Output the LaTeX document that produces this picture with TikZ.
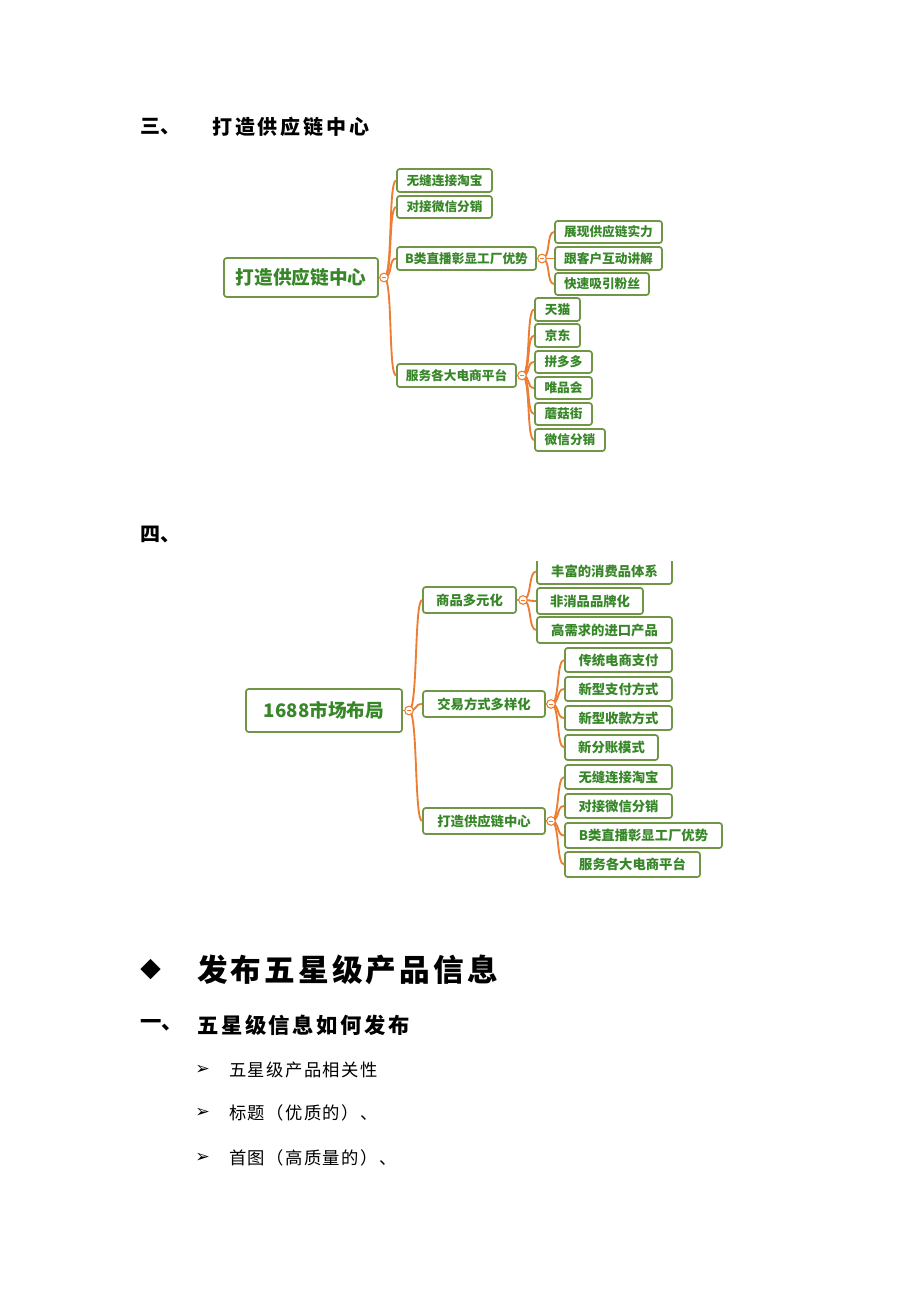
\documentclass[tikz,border=0pt]{standalone}
\usepackage{fontspec}
\setmainfont{Noto Sans CJK SC}
\newfontfamily\symf{DejaVu Sans}
\begin{document}
\begin{tikzpicture}[x=0.75pt,y=-0.75pt,
  bx/.style={draw=boxg,line width=1.3pt,rounded corners=2pt,fill=white,text=txtg,inner sep=0pt,font=\bfseries},
  br/.style={draw=brc,line width=1.4pt},
  cc/.style={circle,draw=brc,line width=0.8pt,fill=white,minimum size=6.5pt,inner sep=0pt},
  hd/.style={anchor=west,inner sep=0pt,font=\bfseries}]
\definecolor{boxg}{RGB}{112,150,70}
\definecolor{txtg}{RGB}{55,135,40}
\definecolor{brc}{RGB}{236,125,50}
\useasboundingbox (0,0) rectangle (920,1302);
\newcommand\bxx[6]{\node[bx,minimum width={(#4-#2)*0.75pt},minimum height={(#5-#3)*0.75pt},#6] (#1) at ({(#2+#4)/2},{(#3+#5)/2})}
\newcommand\conn[2]{\draw[br] (#1.center) .. controls +(9,0) and +(-8,0) .. (#2.west);}
\newcommand\knob[3]{\node[cc] (#1) at (#2,#3) {}; \draw[brc,line width=0.5pt] ([xshift=-1.5pt]#1.center) -- ([xshift=1.5pt]#1.center);}

% headings
\node[hd,font=\bfseries\fontsize{15}{15}\selectfont] (h3) at (140,127) {三、};
\node[hd,font=\bfseries\fontsize{15}{15}\selectfont] (h3t) at (212,127) {\addfontfeatures{LetterSpace=14}打造供应链中心};
\node[hd,font=\bfseries\fontsize{15}{15}\selectfont] (h4) at (140,535) {四、};

% ===== mindmap 1 =====
\bxx{r1}{224}{258}{378}{297}{font=\bfseries\fontsize{14}{14}\selectfont}{打造供应链中心};
\bxx{a1}{397}{169}{492}{192}{font=\bfseries\fontsize{9.5}{9.5}\selectfont}{无缝连接淘宝};
\bxx{a2}{397}{196}{492}{218}{font=\bfseries\fontsize{9.5}{9.5}\selectfont}{对接微信分销};
\bxx{a3}{397}{247}{536}{270}{font=\bfseries\fontsize{9.5}{9.5}\selectfont}{B类直播彰显工厂优势};
\bxx{a4}{397}{364}{516}{387}{font=\bfseries\fontsize{9.5}{9.5}\selectfont}{服务各大电商平台};
\bxx{b1}{555}{221}{662}{243}{font=\bfseries\fontsize{9.5}{9.5}\selectfont}{展现供应链实力};
\bxx{b2}{555}{247}{662}{270}{font=\bfseries\fontsize{9.5}{9.5}\selectfont}{跟客户互动讲解};
\bxx{b3}{555}{273}{649}{295}{font=\bfseries\fontsize{9.5}{9.5}\selectfont}{快速吸引粉丝};
\bxx{c1}{535}{298}{580}{321}{font=\bfseries\fontsize{9.5}{9.5}\selectfont}{天猫};
\bxx{c2}{535}{324}{580}{347}{font=\bfseries\fontsize{9.5}{9.5}\selectfont}{京东};
\bxx{c3}{535}{351}{592}{373}{font=\bfseries\fontsize{9.5}{9.5}\selectfont}{拼多多};
\bxx{c4}{535}{377}{592}{399}{font=\bfseries\fontsize{9.5}{9.5}\selectfont}{唯品会};
\bxx{c5}{535}{403}{592}{425}{font=\bfseries\fontsize{9.5}{9.5}\selectfont}{蘑菇街};
\bxx{c6}{535}{429}{605}{451}{font=\bfseries\fontsize{9.5}{9.5}\selectfont}{微信分销};
\coordinate (k1) at (384,277.5);
\coordinate (k2) at (542,258.5);
\coordinate (k3) at (522,375.5);
\draw[br] (r1.east) -- (k1);
\draw[br] (a3.east) -- (k2);
\draw[br] (a4.east) -- (k3);
\foreach \n in {a1,a2,a3,a4}{\conn{k1}{\n}}
\foreach \n in {b1,b2,b3}{\conn{k2}{\n}}
\foreach \n in {c1,c2,c3,c4,c5,c6}{\conn{k3}{\n}}
\knob{o1}{384}{277.5}
\knob{o2}{542}{258.5}
\knob{o3}{522}{375.5}

% ===== mindmap 2 =====
\bxx{R}{246}{689}{402}{732}{font=\bfseries\fontsize{14}{14}\selectfont}{1688市场布局};
\bxx{A1}{423}{587}{516}{613}{font=\bfseries\fontsize{10}{10}\selectfont}{商品多元化};
\bxx{A2}{423}{691}{545}{717}{font=\bfseries\fontsize{10}{10}\selectfont}{交易方式多样化};
\bxx{A3}{423}{808}{545}{834}{font=\bfseries\fontsize{10}{10}\selectfont}{打造供应链中心};
\bxx{B1}{537}{559}{672}{584}{font=\bfseries\fontsize{10}{10}\selectfont}{丰富的消费品体系};
\bxx{B2}{537}{588}{643}{614}{font=\bfseries\fontsize{10}{10}\selectfont}{非消品品牌化};
\bxx{B3}{537}{617}{672}{643}{font=\bfseries\fontsize{10}{10}\selectfont}{高需求的进口产品};
\bxx{C1}{565}{648}{672}{672}{font=\bfseries\fontsize{10}{10}\selectfont}{传统电商支付};
\bxx{C2}{565}{677}{672}{701}{font=\bfseries\fontsize{10}{10}\selectfont}{新型支付方式};
\bxx{C3}{565}{706}{672}{730}{font=\bfseries\fontsize{10}{10}\selectfont}{新型收款方式};
\bxx{C4}{565}{735}{658}{760}{font=\bfseries\fontsize{10}{10}\selectfont}{新分账模式};
\bxx{D1}{565}{765}{672}{789}{font=\bfseries\fontsize{10}{10}\selectfont}{无缝连接淘宝};
\bxx{D2}{565}{794}{672}{818}{font=\bfseries\fontsize{10}{10}\selectfont}{对接微信分销};
\bxx{D3}{565}{823}{722}{848}{font=\bfseries\fontsize{10}{10}\selectfont}{B类直播彰显工厂优势};
\bxx{D4}{565}{852}{700}{877}{font=\bfseries\fontsize{10}{10}\selectfont}{服务各大电商平台};
\coordinate (K1) at (409,710.5);
\coordinate (K2) at (523,600);
\coordinate (K3) at (551,704);
\coordinate (K4) at (551,821);
\draw[br] (R.east) -- (K1);
\draw[br] (A1.east) -- (K2);
\draw[br] (A2.east) -- (K3);
\draw[br] (A3.east) -- (K4);
\foreach \n in {A1,A2,A3}{\conn{K1}{\n}}
\foreach \n in {B1,B2,B3}{\conn{K2}{\n}}
\foreach \n in {C1,C2,C3,C4}{\conn{K3}{\n}}
\foreach \n in {D1,D2,D3,D4}{\conn{K4}{\n}}
\fill[white] (530,554) rectangle (690,561);
\knob{O1}{409}{710.5}
\knob{O2}{523}{600}
\knob{O3}{551}{704}
\knob{O4}{551}{821}

% ===== text section =====
\node[hd,font=\symf\fontsize{20}{20}\selectfont] (dia) at (140,970) {◆};
\node[hd,font=\bfseries\fontsize{23}{23}\selectfont] (big) at (197,970) {\addfontfeatures{LetterSpace=10}发布五星级产品信息};
\node[hd,font=\bfseries\fontsize{16}{16}\selectfont] (s1) at (140,1025) {一、};
\node[hd,font=\bfseries\fontsize{16}{16}\selectfont] (s1t) at (197,1025) {\addfontfeatures{LetterSpace=12}五星级信息如何发布};
\foreach \yy/\tt [count=\i] in {1070/五星级产品相关性,1113/标题（优质的）、,1158/首图（高质量的）、}{
  \node[hd,font=\symf\fontsize{13}{13}\selectfont] (bu\i) at (195,\yy) {➢};
  \node[hd,font=\fontsize{13}{13}\selectfont] (bt\i) at (229,\yy) {\addfontfeatures{LetterSpace=8}\tt};
}
\end{tikzpicture}
\end{document}
